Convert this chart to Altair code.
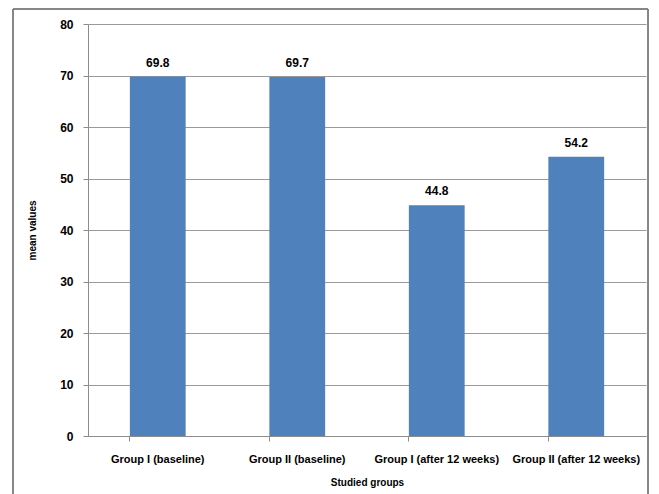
import altair as alt
import pandas as pd

groups = ["Group I (baseline)", "Group II (baseline)", "Group I (after 12 weeks)", "Group II (after 12 weeks)"]
values = [69.8, 69.7, 44.8, 54.2]
labels = ["69.8", "69.7", "44.8", "54.2"]

df = pd.DataFrame({"group": groups, "value": values, "label": labels})

FONT = "Liberation Sans"

x_enc = alt.X("group:N", sort=groups, title="Studied groups",
              scale=alt.Scale(paddingInner=0.6, paddingOuter=0.3),
              axis=alt.Axis(labelAngle=0, labelFont=FONT, labelFontWeight="bold", labelFontSize=11,
                            labelColor="#000000", titleFont=FONT, titleFontWeight="bold", titleFontSize=10,
                            titleColor="#000000", titlePadding=13, domainColor="#8c8c8c", tickColor="#8c8c8c",
                            tickSize=5, bandPosition=0, labelPadding=12, grid=False))
y_enc = alt.Y("value:Q", title="mean values",
              scale=alt.Scale(domain=[0, 80]),
              axis=alt.Axis(values=[0, 10, 20, 30, 40, 50, 60, 70, 80], labelFont=FONT, labelFontWeight="bold",
                            labelFontSize=12, labelColor="#000000", titleFont=FONT, titleFontWeight="bold",
                            titleFontSize=10, titleColor="#000000", titlePadding=22, domainColor="#8c8c8c",
                            tickColor="#8c8c8c", tickSize=5, labelPadding=10, gridColor="#9a9a9a",
                            gridWidth=1.2))

bars = alt.Chart(df).mark_bar(color="#4F81BD").encode(x=x_enc, y=y_enc)
text = alt.Chart(df).mark_text(dy=-14, font=FONT, fontWeight="bold", fontSize=12, color="#000000").encode(
    x=alt.X("group:N", sort=groups), y="value:Q", text="label:N")

border = alt.Chart(df).mark_rect(fill=None, stroke="#7f7f7f", strokeWidth=1).encode(
    x=alt.value(-75), x2=alt.value(560), y=alt.value(-15), y2=alt.value(490))

chart = alt.layer(border, bars, text).properties(
    width=558, height=412,
    padding={"left": 88, "top": 24, "right": 13, "bottom": 58},
    autosize=alt.AutoSizeParams(type="none"),
    background="#ffffff",
).configure_view(stroke=None)

chart.save("out.html", embed_options={"renderer": "svg", "actions": False})
